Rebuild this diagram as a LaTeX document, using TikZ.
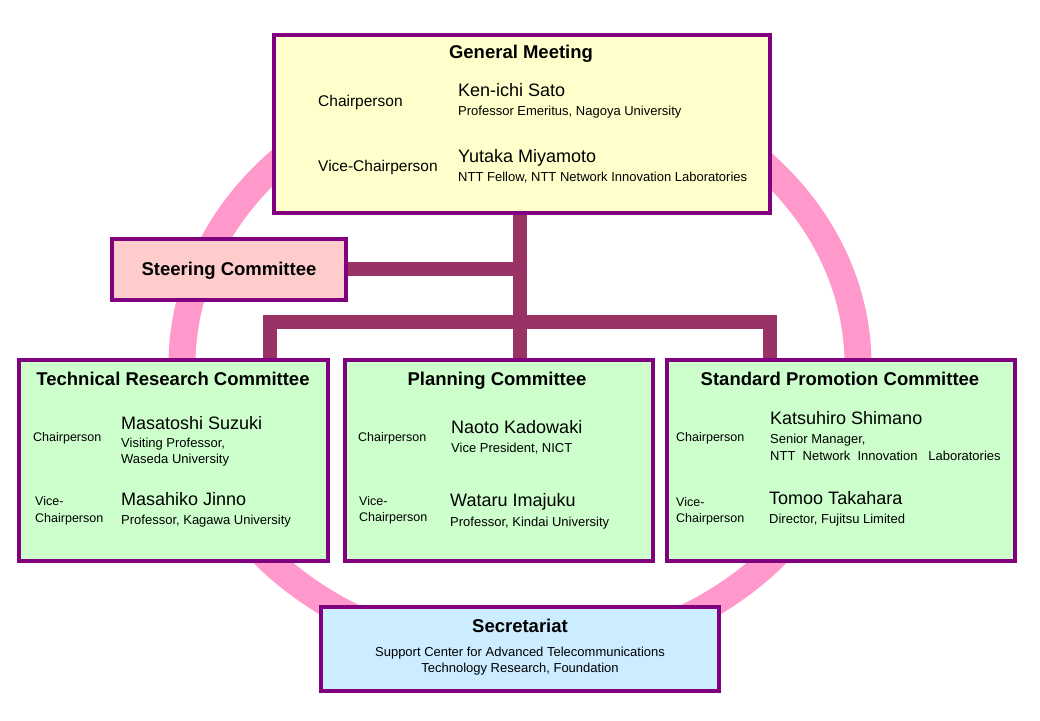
\documentclass[tikz,border=0pt]{standalone}
\usepackage{fontspec}
\setmainfont{Liberation Sans}
\definecolor{boxpurple}{HTML}{800080}
\definecolor{connc}{HTML}{993366}
\definecolor{ringc}{HTML}{FF99CC}
\definecolor{gmfill}{HTML}{FFFFCC}
\definecolor{stfill}{HTML}{FFCCCC}
\definecolor{cmfill}{HTML}{CCFFCC}
\definecolor{secfill}{HTML}{CCECFF}
\pgfdeclarelayer{background}
\pgfsetlayers{background,main}
\begin{document}
\begin{tikzpicture}[x=1pt,y=-1pt,
  orgbox/.style={draw=boxpurple, line width=4pt, inner sep=0, minimum width=#1},
  conn/.style={draw=connc, line width=14pt, line join=miter},
  ringline/.style={draw=ringc, line width=27pt},
  txt/.style={inner sep=0, yshift=-3.5pt},
  ttl/.style={txt, font=\fontsize{18.5}{20}\selectfont\bfseries, anchor=mid},
  role/.style={txt, font=\fontsize{12.5}{15}\selectfont, anchor=mid west},
  bigrole/.style={txt, font=\fontsize{15.5}{18}\selectfont, anchor=mid west},
  pname/.style={txt, font=\fontsize{18}{20}\selectfont, anchor=mid west},
  aff/.style={txt, font=\fontsize{13}{16}\selectfont, anchor=mid west},
  affc/.style={txt, font=\fontsize{13}{16}\selectfont, anchor=mid}]
\useasboundingbox (0,0) rectangle (1040,720);
% boxes
\node[orgbox=496pt, minimum height=178pt, fill=gmfill] (gm) at (522,124) {};
\node[orgbox=234pt, minimum height=61pt, fill=stfill] (st) at (229,269.5) {};
\node[orgbox=309pt, minimum height=201pt, fill=cmfill] (trc) at (173.5,460.5) {};
\node[orgbox=308pt, minimum height=201pt, fill=cmfill] (pc) at (499,460.5) {};
\node[orgbox=348pt, minimum height=201pt, fill=cmfill] (spc) at (841,460.5) {};
\node[orgbox=398pt, minimum height=84pt, fill=secfill] (sec) at (520,649) {};
% ring and connectors behind the boxes
\coordinate (j1) at (520,269);
\coordinate (dl) at (270,322);
\coordinate (dr) at (770,322);
\begin{pgfonlayer}{background}
\fill[white] (0,0) rectangle (1040,720);
\draw[ringline] (520,365) ellipse [x radius=338pt, y radius=290pt];
\draw[conn] (gm.center -| j1) -- (j1 |- pc.center);
\draw[conn] (st.center |- j1) -- (j1);
\draw[conn] (dl |- trc.center) -- (dl) -- (dr) -- (dr |- spc.center);
\end{pgfonlayer}
% General Meeting
\node[ttl] (gmT) at (521,52) {General Meeting};
\node[bigrole] (gmR1) at (318,100) {Chairperson};
\node[pname] (gmN1) at (458,90) {Ken-ichi Sato};
\node[aff] (gmA1) at (458,109) {Professor Emeritus, Nagoya University};
\node[bigrole] (gmR2) at (318,165) {Vice-Chairperson};
\node[pname] (gmN2) at (458,156) {Yutaka Miyamoto};
\node[aff] (gmA2) at (458,175) {NTT Fellow, NTT Network Innovation Laboratories};
% Steering
\node[ttl] (stT) at (229,269) {Steering Committee};
% Technical Research Committee
\node[ttl] (trcT) at (173,379) {Technical Research Committee};
\node[role] (trcR1) at (33,435) {Chairperson};
\node[pname] (trcN1) at (121,423) {Masatoshi Suzuki};
\node[aff] (trcA1) at (121,441) {Visiting Professor,};
\node[aff] (trcA1b) at (121,457) {Waseda University};
\node[role] (trcR2a) at (35,499) {Vice-};
\node[role] (trcR2b) at (35,516) {Chairperson};
\node[pname] (trcN2) at (121,499) {Masahiko Jinno};
\node[aff] (trcA2) at (121,518) {Professor, Kagawa University};
% Planning Committee
\node[ttl] (pcT) at (497,379) {Planning Committee};
\node[role] (pcR1) at (358,435) {Chairperson};
\node[pname] (pcN1) at (451,427) {Naoto Kadowaki};
\node[aff] (pcA1) at (451,446) {Vice President, NICT};
\node[role] (pcR2a) at (359,499) {Vice-};
\node[role] (pcR2b) at (359,515) {Chairperson};
\node[pname] (pcN2) at (450,500) {Wataru Imajuku};
\node[aff] (pcA2) at (450,520) {Professor, Kindai University};
% Standard Promotion Committee
\node[ttl] (spcT) at (840,379) {Standard Promotion Committee};
\node[role] (spcR1) at (676,435) {Chairperson};
\node[pname] (spcN1) at (770,418) {Katsuhiro Shimano};
\node[aff] (spcA1) at (770,437) {Senior Manager,};
\node[aff] (spcA1b) at (770,454) {NTT\ \ Network\ \ Innovation\ \ \ Laboratories};
\node[role] (spcR2a) at (676,500) {Vice-};
\node[role] (spcR2b) at (676,516) {Chairperson};
\node[pname] (spcN2) at (769,498) {Tomoo Takahara};
\node[aff] (spcA2) at (769,517) {Director, Fujitsu Limited};
% Secretariat
\node[ttl] (secT) at (520,626) {Secretariat};
\node[affc] (secA1) at (520,650) {Support Center for Advanced Telecommunications};
\node[affc] (secA2) at (520,666) {Technology Research, Foundation};
\end{tikzpicture}
\end{document}
